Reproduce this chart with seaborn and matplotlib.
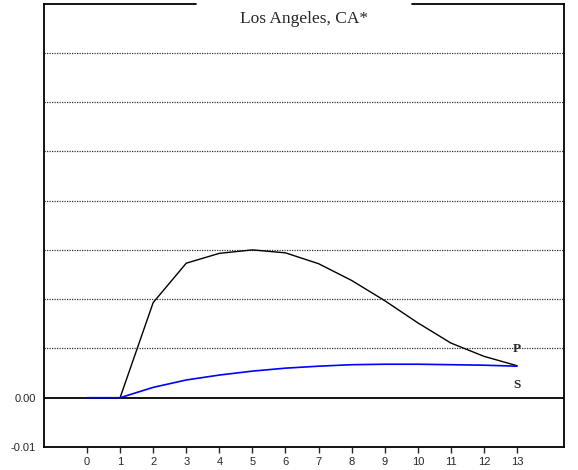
import seaborn as sns
import matplotlib.pyplot as plt
import numpy as np
import pandas as pd

# values
periods = list(range(0, 14))
p_values = [0.0, 0.0, 0.0193, 0.0273, 0.0293, 0.0300, 0.0294, 0.0272,
            0.0238, 0.0197, 0.0152, 0.0111, 0.0084, 0.0065]
s_values = [0.0, 0.0, 0.0021, 0.0036, 0.0046, 0.0054, 0.0060, 0.0064,
            0.0067, 0.0068, 0.0068, 0.0067, 0.0066, 0.0064]
grid_levels = [0.01, 0.02, 0.03, 0.04, 0.05, 0.06, 0.07]
ytick_vals = [-0.01, 0.00]
ytick_labels = ["-0.01", "0.00"]
title = "Los Angeles, CA*"

df = pd.DataFrame({
    "period": periods * 2,
    "value": p_values + s_values,
    "series": ["P"] * len(periods) + ["S"] * len(periods),
})

sns.set_style("white")
plt.rcParams['font.family'] = ['Liberation Sans', 'DejaVu Sans']

fig = plt.figure(figsize=(5.78, 4.70), dpi=100)
ax = fig.add_axes([44 / 578, 23 / 470, 520 / 578, 443 / 470])

# dotted gridlines
for g in grid_levels:
    ax.axhline(g, color="#333333", lw=0.9, ls=(0, (1, 1)), zorder=1)

sns.lineplot(data=df, x="period", y="value", hue="series",
             palette={"P": "black", "S": "#0000ff"}, legend=False,
             linewidth=1.0, ax=ax, zorder=3)
ax.lines[-1].set_linewidth(1.2)

ax.axhline(0.0, color="black", lw=1.3, zorder=2)

ax.set_xlim(-1.3, 14.42)
ax.set_ylim(-0.01, 0.0799)
ax.set_xticks(periods)
ax.set_xticklabels([str(p) for p in periods], fontsize=8)
ax.set_yticks(ytick_vals)
ax.set_yticklabels(ytick_labels, fontsize=8)
ax.tick_params(axis="x", direction="out", length=4, width=1, pad=3, bottom=True)
ax.tick_params(axis="y", length=0, pad=6)
ax.set_xlabel("")
ax.set_ylabel("")

for side in ["left", "bottom", "right"]:
    ax.spines[side].set_color("black")
    ax.spines[side].set_linewidth(1.3)
ax.spines["top"].set_visible(False)
# top border broken by the title
ax.plot([0, 152 / 520], [1, 1], transform=ax.transAxes, color="black",
        lw=1.3, clip_on=False)
ax.plot([368 / 520, 1], [1, 1], transform=ax.transAxes, color="black",
        lw=1.3, clip_on=False)

ax.text(0.5, 0.966, title, transform=ax.transAxes, ha="center", va="center",
        fontsize=12.5, family=["Liberation Serif", "DejaVu Serif"])

ax.text(13, p_values[-1] + 0.0033, "P", ha="center", va="center",
        fontsize=9.5, fontweight="bold", family=["Liberation Serif", "DejaVu Serif"])
ax.text(13, 0.0026, "S", ha="center", va="center",
        fontsize=9.5, fontweight="bold", family=["Liberation Serif", "DejaVu Serif"])

fig.savefig("out.png", dpi=100)
